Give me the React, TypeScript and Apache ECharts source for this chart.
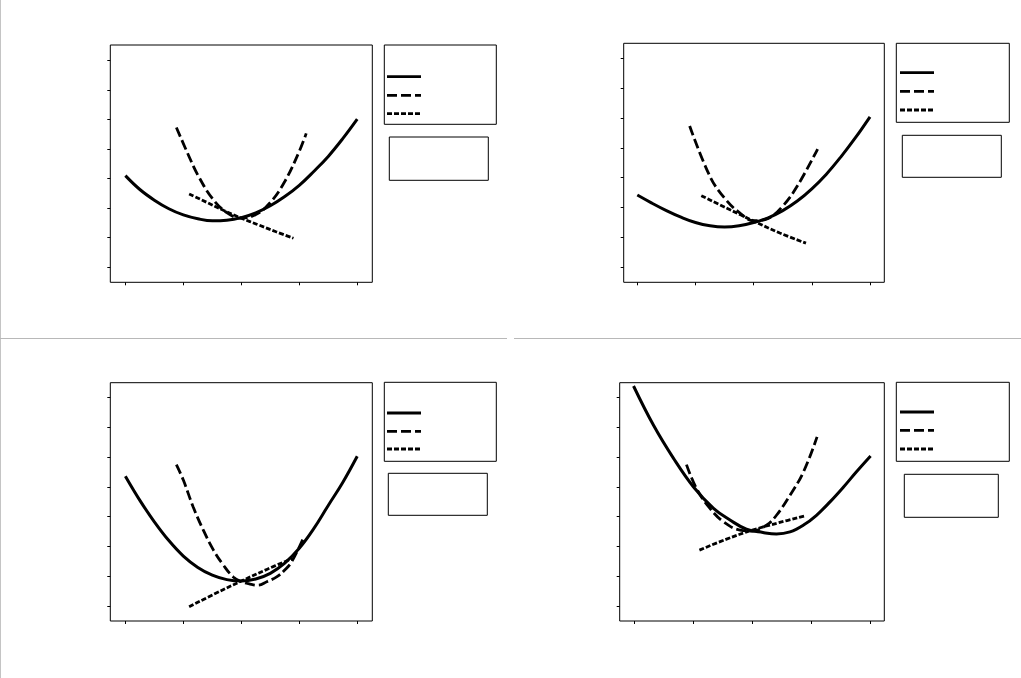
import React, { useEffect, useRef } from "react";
import * as echarts from "echarts";

// Tick values (no labels shown in the reference)
const xTicks = [-2, -1, 0, 1, 2];
const yTicks = [0, 1, 2, 3, 4, 5, 6, 7];

// Solid curve samples
const solidX = [-2, -1.75, -1.5, -1.25, -1, -0.75, -0.5, -0.25, 0, 0.25, 0.5, 0.75, 1, 1.25, 1.5, 1.75, 2];
const solid1 = [3.1, 2.63, 2.27, 1.98, 1.77, 1.64, 1.57, 1.59, 1.68, 1.84, 2.08, 2.39, 2.77, 3.24, 3.75, 4.35, 5.01];
const solid2 = [2.42, 2.15, 1.9, 1.68, 1.5, 1.39, 1.35, 1.39, 1.5, 1.66, 1.9, 2.22, 2.63, 3.12, 3.7, 4.34, 5.04];
const solid3 = [4.36, 3.55, 2.83, 2.2, 1.68, 1.3, 1.04, 0.89, 0.84, 0.91, 1.1, 1.44, 1.94, 2.6, 3.38, 4.15, 5.03];
const solidX4 = [-2.02, -1.68, -1.34, -1.0, -0.66, -0.38, -0.1, 0.18, 0.41, 0.64, 0.87, 1.09, 1.32, 1.55, 1.77, 2.01];
const solid4 = [7.39, 6.07, 4.96, 4.0, 3.28, 2.89, 2.58, 2.47, 2.42, 2.49, 2.72, 3.05, 3.5, 4.0, 4.51, 5.04];

// Long-dashed curve samples
const dashX1 = [-1.12, -0.9, -0.75, -0.5, -0.25, 0, 0.25, 0.5, 0.75, 1.0, 1.12];
const dash1 = [4.73, 3.74, 3.12, 2.33, 1.85, 1.66, 1.78, 2.19, 2.9, 3.92, 4.53];
const dashX2 = [-1.1, -0.75, -0.5, -0.25, 0, 0.25, 0.5, 0.75, 1.1];
const dash2 = [4.73, 3.04, 2.32, 1.84, 1.56, 1.64, 2.05, 2.72, 3.96];
const dashX3 = [-1.12, -1.0, -0.83, -0.655, -0.48, -0.31, -0.14, 0, 0.15, 0.29, 0.44, 0.61, 0.75, 0.87, 1.08];
const dash3 = [4.75, 4.23, 3.33, 2.55, 1.88, 1.38, 0.98, 0.82, 0.74, 0.7, 0.82, 0.98, 1.21, 1.49, 2.32];
const dashX4 = [-1.12, -0.95, -0.72, -0.49, -0.21, 0, 0.24, 0.41, 0.64, 0.87, 1.1];
const dash4 = [4.75, 3.95, 3.28, 2.83, 2.55, 2.52, 2.72, 3.05, 3.72, 4.51, 5.68];

// Short-dashed line samples
const dotX1 = [-0.9, -0.6, -0.3, 0, 0.3, 0.6, 0.9];
const dot1 = [2.48, 2.2, 1.92, 1.66, 1.43, 1.2, 0.98];
const dotX2 = [-0.9, -0.45, 0, 0.45, 0.9];
const dot2 = [2.4, 1.97, 1.55, 1.15, 0.81];
const dotX3 = [-0.9, -0.45, 0, 0.45, 0.88];
const dot3 = [-0.02, 0.42, 0.84, 1.24, 1.6];
const dotX4 = [-0.9, -0.45, 0, 0.45, 0.88];
const dot4 = [1.88, 2.24, 2.55, 2.8, 3.02];

const zip = (xs: number[], ys: number[]) => xs.map((x, i) => [x, ys[i]]);

const panels = [
  { grid: { left: 110.3, top: 45, width: 262, height: 237.3 }, xMin: -2.26, xMax: 2.26, yMin: -0.51, yMax: 7.52,
    solid: zip(solidX, solid1), dash: zip(dashX1, dash1), dot: zip(dotX1, dot1),
    legend: { x: 384.3, y: 45, w: 112, h: 79.3, lx: 387, lw: 34, ly: [76.7, 95.3, 113.7] },
    box: { x: 389.3, y: 137, w: 99, h: 43.3 } },
  { grid: { left: 623.7, top: 43.3, width: 260.6, height: 239 }, xMin: -2.234, xMax: 2.246, yMin: -0.5, yMax: 7.5,
    solid: zip(solidX, solid2), dash: zip(dashX2, dash2), dot: zip(dotX2, dot2),
    legend: { x: 896.3, y: 43.3, w: 113, h: 79, lx: 900, lw: 34, ly: [72.7, 91.3, 110] },
    box: { x: 902.3, y: 135.3, w: 99, h: 42 } },
  { grid: { left: 110.3, top: 382.7, width: 262, height: 238.3 }, xMin: -2.26, xMax: 2.26, yMin: -0.5, yMax: 7.5,
    solid: zip(solidX, solid3), dash: zip(dashX3, dash3), dot: zip(dotX3, dot3),
    legend: { x: 384.3, y: 382.3, w: 112, h: 79, lx: 387, lw: 34, ly: [413, 431.3, 449] },
    box: { x: 388.3, y: 473.3, w: 99, h: 42 } },
  { grid: { left: 619.7, top: 382.7, width: 264.6, height: 238.3 }, xMin: -2.255, xMax: 2.243, yMin: -0.5, yMax: 7.5,
    solid: zip(solidX4, solid4), dash: zip(dashX4, dash4), dot: zip(dotX4, dot4),
    legend: { x: 896.3, y: 382.3, w: 113, h: 79, lx: 900, lw: 34, ly: [412, 430.3, 449] },
    box: { x: 904.3, y: 474.3, w: 94, h: 43 } },
];

const DASH = [10, 4];
const DOT = [5, 2];

export default function App() {
  const ref = useRef<HTMLDivElement>(null);
  useEffect(() => {
    if (!ref.current) return;
    const chart = echarts.init(ref.current, undefined, { renderer: "svg" });

    const grids: any[] = [];
    const xAxes: any[] = [];
    const yAxes: any[] = [];
    const series: any[] = [];
    const graphics: any[] = [];

    panels.forEach((p, i) => {
      grids.push({ ...p.grid, show: true, borderColor: "#000", borderWidth: 1, backgroundColor: "transparent", containLabel: false });
      const tick = (vals: number[]) => ({ show: true, inside: false, length: 3, lineStyle: { color: "#000", width: 1 }, customValues: vals });
      xAxes.push({
        type: "value", gridIndex: i, min: p.xMin, max: p.xMax, position: "bottom",
        axisLine: { show: false, onZero: false },
        axisLabel: { show: false },
        splitLine: { show: false },
        axisTick: tick(xTicks),
      });
      yAxes.push({
        type: "value", gridIndex: i, min: p.yMin, max: p.yMax, position: "left",
        axisLine: { show: false, onZero: false },
        axisLabel: { show: false },
        splitLine: { show: false },
        axisTick: tick(yTicks),
      });
      const base = { type: "line", xAxisIndex: i, yAxisIndex: i, showSymbol: false, symbol: "none", smooth: 0.4, silent: true };
      series.push({ ...base, name: "dot" + i, data: p.dot, lineStyle: { color: "#000", width: 2.8, type: DOT }, z: 3 });
      series.push({ ...base, name: "dash" + i, data: p.dash, lineStyle: { color: "#000", width: 2.8, type: DASH }, z: 4 });
      series.push({ ...base, name: "solid" + i, data: p.solid, lineStyle: { color: "#000", width: 3 }, z: 5 });

      const L = p.legend;
      graphics.push({ type: "rect", shape: { x: L.x, y: L.y, width: L.w, height: L.h }, style: { fill: "none", stroke: "#000", lineWidth: 1 } });
      const dashes = [null, DASH, DOT];
      L.ly.forEach((yy, k) => {
        graphics.push({
          type: "line",
          shape: { x1: L.lx, y1: yy, x2: L.lx + L.lw, y2: yy },
          style: { stroke: "#000", lineWidth: 2.8, lineDash: dashes[k] || undefined },
        });
      });
      const B = p.box;
      graphics.push({ type: "rect", shape: { x: B.x, y: B.y, width: B.w, height: B.h }, style: { fill: "none", stroke: "#000", lineWidth: 1 } });
    });

    // Light grey panel separators
    graphics.push({ type: "line", shape: { x1: 0.5, y1: 0, x2: 0.5, y2: 678 }, style: { stroke: "#c4c4c4", lineWidth: 1 } });
    graphics.push({ type: "line", shape: { x1: 0, y1: 338.5, x2: 507, y2: 338.5 }, style: { stroke: "#b8b8b8", lineWidth: 1 } });
    graphics.push({ type: "line", shape: { x1: 514, y1: 338.5, x2: 1021, y2: 338.5 }, style: { stroke: "#b8b8b8", lineWidth: 1 } });

    chart.setOption({
      animation: false,
      backgroundColor: "#fff",
      grid: grids,
      xAxis: xAxes,
      yAxis: yAxes,
      series,
      graphic: graphics,
    });
    return () => chart.dispose();
  }, []);
  return <div ref={ref} style={{ position: "fixed", left: 0, top: 0, width: 1021, height: 678 }} />;
}
